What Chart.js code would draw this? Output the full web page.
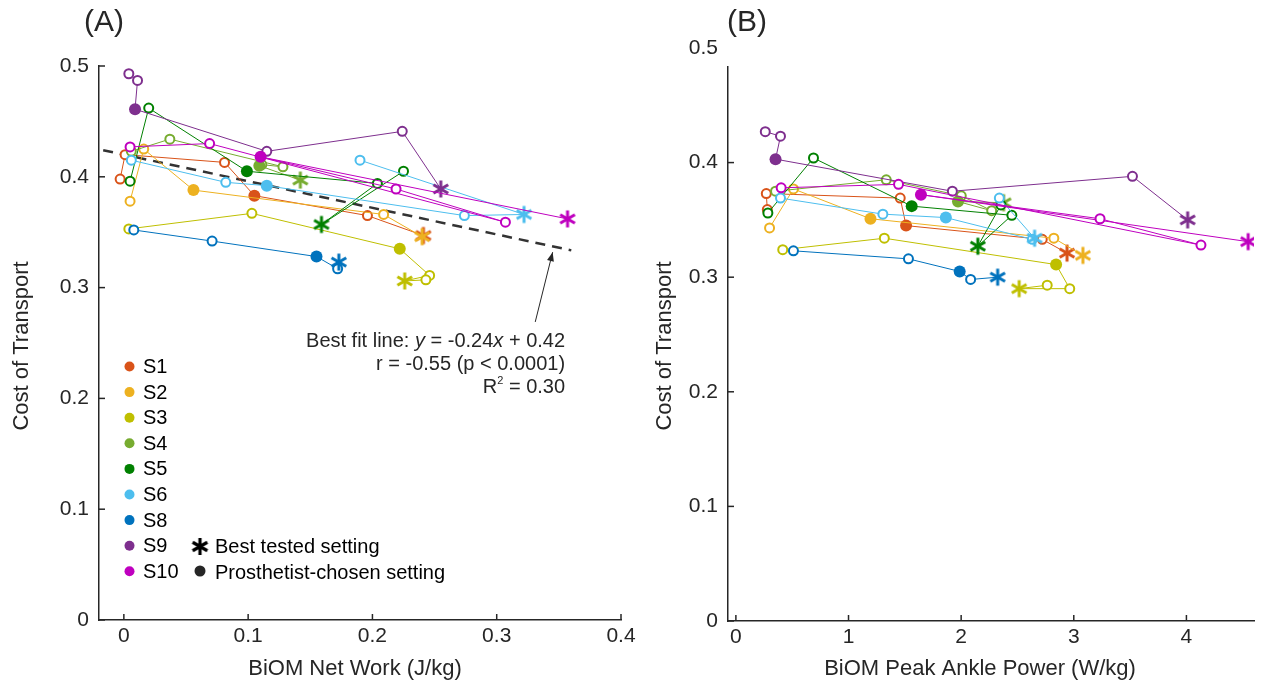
<!DOCTYPE html>
<html>
<head>
<meta charset="utf-8">
<script src="https://cdn.jsdelivr.net/npm/chart.js@4.4.0/dist/chart.umd.min.js"></script>
<style>
  html, body { margin: 0; padding: 0; background: #fff; }
  #wrap { position: relative; width: 1263px; height: 691px; }
  #chartA { position: absolute; left: 0; top: 0; width: 640px; height: 691px; }
  #chartB { position: absolute; left: 640px; top: 0; width: 623px; height: 691px; }
</style>
</head>
<body>
<div id="wrap">
  <canvas id="chartA" width="640" height="691"></canvas>
  <canvas id="chartB" width="623" height="691"></canvas>
</div>
<script>
// subjects and colours
const subjects = ['S1', 'S2', 'S3', 'S4', 'S5', 'S6', 'S8', 'S9', 'S10'];
const subjectColors = ['#D95319', '#EDB120', '#BFBF00', '#77AC30', '#008000', '#4DBEEE', '#0072BD', '#7E2F8E', '#BF00BF'];

// o = tested setting, f = prosthetist-chosen setting, * = best tested setting
const markers = [
  ['o', 'o', 'o', 'f', 'o', '*'],
  ['o', 'o', 'f', 'o', '*'],
  ['o', 'o', 'f', 'o', '*', 'o'],
  ['o', 'o', 'o', 'o', 'f', '*'],
  ['o', 'o', 'f', 'o', '*', 'o'],
  ['o', 'o', 'f', 'o', '*', 'o'],
  ['o', 'o', 'f', 'o', '*'],
  ['o', 'o', 'f', 'o', 'o', '*'],
  ['o', 'o', 'o', 'o', 'f', '*']
];

// (A) BiOM net work (J/kg)
const netWork = [
  [-0.003, 0.001, 0.081, 0.105, 0.196, 0.241],
  [0.005, 0.016, 0.056, 0.209, 0.240],
  [0.004, 0.103, 0.222, 0.246, 0.226, 0.243],
  [0.006, 0.037, 0.128, 0.111, 0.109, 0.142],
  [0.005, 0.020, 0.099, 0.204, 0.159, 0.225],
  [0.006, 0.082, 0.115, 0.274, 0.322, 0.190],
  [0.008, 0.071, 0.155, 0.172, 0.173],
  [0.004, 0.011, 0.009, 0.115, 0.224, 0.255],
  [0.005, 0.069, 0.307, 0.219, 0.110, 0.357]
];
const cotA = [
  [0.398, 0.420, 0.413, 0.383, 0.365, 0.347],
  [0.378, 0.425, 0.388, 0.366, 0.346],
  [0.353, 0.367, 0.335, 0.311, 0.306, 0.307],
  [0.423, 0.434, 0.409, 0.411, 0.410, 0.397],
  [0.396, 0.462, 0.405, 0.394, 0.357, 0.405],
  [0.415, 0.395, 0.392, 0.365, 0.366, 0.415],
  [0.352, 0.342, 0.328, 0.317, 0.323],
  [0.493, 0.487, 0.461, 0.423, 0.441, 0.389],
  [0.427, 0.430, 0.359, 0.389, 0.418, 0.362]
];

// (B) BiOM peak ankle power (W/kg)
const peakPower = [
  [0.279, 0.270, 1.459, 1.511, 2.720, 2.940],
  [0.299, 0.511, 1.195, 2.823, 3.081],
  [0.416, 1.318, 2.843, 2.964, 2.515, 2.764],
  [0.352, 1.335, 2.001, 2.271, 1.972, 2.377],
  [0.284, 0.689, 1.561, 2.450, 2.148, 2.353],
  [0.396, 1.305, 1.864, 2.632, 2.652, 2.339],
  [0.511, 1.532, 1.987, 2.084, 2.324],
  [0.261, 0.396, 0.352, 1.922, 3.521, 4.011],
  [0.402, 1.444, 4.129, 3.233, 1.643, 4.548]
];
const cotB = [
  [0.359, 0.373, 0.369, 0.345, 0.333, 0.321],
  [0.343, 0.377, 0.351, 0.334, 0.319],
  [0.324, 0.334, 0.311, 0.290, 0.290, 0.293],
  [0.375, 0.385, 0.371, 0.358, 0.366, 0.365],
  [0.356, 0.404, 0.362, 0.354, 0.327, 0.363],
  [0.369, 0.355, 0.352, 0.333, 0.334, 0.369],
  [0.323, 0.316, 0.305, 0.298, 0.300],
  [0.427, 0.423, 0.403, 0.375, 0.388, 0.350],
  [0.378, 0.381, 0.328, 0.351, 0.372, 0.331]
];

// best fit line for (A)
const fitSlope = -0.24;
const fitIntercept = 0.42;
const fitRange = [-0.03, 0.36];

const yTicks = [0, 0.1, 0.2, 0.3, 0.4, 0.5];
const xTicksA = [0, 0.1, 0.2, 0.3, 0.4];
const xTicksB = [0, 1, 2, 3, 4];

const FONT = "'Liberation Sans', Arial, Helvetica, sans-serif";
const TEXT = '#262626';
const AXIS = '#262626';

// asterisk marker drawn into a small canvas
function asteriskImage(color, r, lw) {
    const c = document.createElement('canvas');
    const s = Math.ceil(2 * r + lw + 2);
    c.width = s;
    c.height = s;
    const g = c.getContext('2d');
    g.strokeStyle = color;
    g.lineWidth = lw;
    g.translate(s / 2, s / 2);
    for (let k = 0; k < 3; k++) {
        const a = Math.PI / 2 + k * Math.PI / 3;
        g.beginPath();
        g.moveTo(Math.cos(a) * r, Math.sin(a) * r);
        g.lineTo(-Math.cos(a) * r, -Math.sin(a) * r);
        g.stroke();
    }
    return c;
}
const starImgs = subjectColors.map(c => asteriskImage(c, 8.5, 3));
const blackStar = asteriskImage('#000', 8.5, 3.2);

function subjectDatasets(xs, ys) {
    return subjects.map((name, i) => ({
        label: name,
        data: xs[i].map((x, j) => ({ x: x, y: ys[i][j] })),
        showLine: true,
        borderColor: subjectColors[i],
        borderWidth: 1,
        order: -i,
        pointStyle: markers[i].map(m => m === '*' ? starImgs[i] : 'circle'),
        pointRadius: markers[i].map(m => m === 'f' ? 6 : (m === 'o' ? 4.5 : 9)),
        pointBorderWidth: markers[i].map(m => m === 'o' ? 2 : 0),
        pointBackgroundColor: markers[i].map(m => m === 'f' ? subjectColors[i] : '#fff'),
        pointBorderColor: subjectColors[i]
    }));
}

function makeScales(xmin, xmax, ymax, xTicks, yWidth, xHeight, xFmt) {
    const tickFont = { family: FONT, size: 21 };
    return {
        x: {
            type: 'linear', min: xmin, max: xmax,
            afterBuildTicks: s => { s.ticks = xTicks.map(v => ({ value: v })); },
            afterFit: s => { s.height = xHeight; },
            grid: { display: false, drawTicks: false },
            border: { display: true, color: AXIS, width: 1.5 },
            ticks: { font: tickFont, color: TEXT, padding: 4, autoSkip: false, maxRotation: 0, callback: xFmt }
        },
        y: {
            type: 'linear', min: 0, max: ymax,
            afterBuildTicks: s => { s.ticks = yTicks.map(v => ({ value: v })); },
            afterFit: s => { s.width = yWidth; },
            grid: { display: false, drawTicks: false },
            border: { display: true, color: AXIS, width: 1.5 },
            ticks: { font: tickFont, color: TEXT, padding: 10, autoSkip: false, callback: v => v === 0 ? '0' : v.toFixed(1) }
        }
    };
}

// inward tick marks, like the original figure
const innerTicks = {
    id: 'innerTicks',
    afterDraw(chart) {
        const ctx = chart.ctx;
        const xs = chart.scales.x, ys = chart.scales.y;
        const a = chart.chartArea;
        ctx.save();
        ctx.strokeStyle = AXIS;
        ctx.lineWidth = 1.5;
        xs.ticks.forEach(t => {
            if (t.value < xs.min || t.value > xs.max) return;
            const px = xs.getPixelForValue(t.value);
            ctx.beginPath(); ctx.moveTo(px, a.bottom); ctx.lineTo(px, a.bottom - 6); ctx.stroke();
        });
        ys.ticks.forEach(t => {
            if (t.value < ys.min || t.value > ys.max) return;
            const py = ys.getPixelForValue(t.value);
            ctx.beginPath(); ctx.moveTo(a.left, py); ctx.lineTo(a.left + 6, py); ctx.stroke();
        });
        ctx.restore();
    }
};

function drawTitles(ctx, panel, panelX, yTitleX, xTitle, xTitleX) {
    ctx.save();
    ctx.fillStyle = TEXT;
    ctx.font = '30px ' + FONT;
    ctx.textAlign = 'left';
    ctx.textBaseline = 'middle';
    ctx.fillText(panel, panelX, 23);
    ctx.font = '22px ' + FONT;
    ctx.textAlign = 'center';
    ctx.fillText(xTitle, xTitleX, 669);
    ctx.translate(yTitleX, 346);
    ctx.rotate(-Math.PI / 2);
    ctx.fillText('Cost of Transport', 0, 0);
    ctx.restore();
}

// pieces of text with mixed styles, right aligned
function drawRuns(ctx, runs, xRight, y) {
    let w = 0;
    runs.forEach(r => { ctx.font = r.font; w += ctx.measureText(r.text).width; });
    let x = xRight - w;
    runs.forEach(r => {
        ctx.font = r.font;
        ctx.fillText(r.text, x, y + (r.dy || 0));
        x += ctx.measureText(r.text).width;
    });
}

const decorA = {
    id: 'decorA',
    afterDraw(chart) {
        const ctx = chart.ctx;
        const xs = chart.scales.x, ys = chart.scales.y;
        drawTitles(ctx, '(A)', 84, 22, 'BiOM Net Work (J/kg)', 355);

        // legend
        ctx.save();
        ctx.textBaseline = 'middle';
        ctx.textAlign = 'left';
        ctx.font = '20px ' + FONT;
        subjects.forEach((s, i) => {
            const y = 366.5 + i * 25.6;
            ctx.fillStyle = subjectColors[i];
            ctx.beginPath(); ctx.arc(129.5, y, 5, 0, Math.PI * 2); ctx.fill();
            ctx.fillStyle = '#000';
            ctx.fillText(s, 143, y + 1);
        });
        ctx.drawImage(blackStar, 200 - blackStar.width / 2, 546.5 - blackStar.height / 2);
        ctx.fillStyle = '#000';
        ctx.fillText('Best tested setting', 215, 547.5);
        ctx.fillStyle = '#262626';
        ctx.beginPath(); ctx.arc(200, 571, 5.5, 0, Math.PI * 2); ctx.fill();
        ctx.fillStyle = '#000';
        ctx.fillText('Prosthetist-chosen setting', 215, 573);

        // fit annotation
        ctx.fillStyle = TEXT;
        const f = '20px ' + FONT, fi = 'italic 20px ' + FONT;
        const xr = xs.getPixelForValue(0.355);
        drawRuns(ctx, [
            { text: 'Best fit line: ', font: f }, { text: 'y', font: fi },
            { text: ' = -0.24', font: f }, { text: 'x', font: fi }, { text: ' + 0.42', font: f }
        ], xr, ys.getPixelForValue(0.251));
        drawRuns(ctx, [{ text: 'r = -0.55 (p < 0.0001)', font: f }], xr, ys.getPixelForValue(0.231));
        drawRuns(ctx, [
            { text: 'R', font: f }, { text: '2', font: '11px ' + FONT, dy: -6 }, { text: ' = 0.30', font: f }
        ], xr, ys.getPixelForValue(0.210));

        // arrow to the fit line
        const x0 = xs.getPixelForValue(0.331), y0 = ys.getPixelForValue(0.269);
        const x1 = xs.getPixelForValue(0.345), y1 = ys.getPixelForValue(0.332);
        const ang = Math.atan2(y1 - y0, x1 - x0);
        ctx.strokeStyle = TEXT;
        ctx.lineWidth = 1;
        ctx.beginPath(); ctx.moveTo(x0, y0); ctx.lineTo(x1, y1); ctx.stroke();
        ctx.beginPath();
        ctx.moveTo(x1, y1);
        ctx.lineTo(x1 - 9 * Math.cos(ang) + 3.5 * Math.sin(ang), y1 - 9 * Math.sin(ang) - 3.5 * Math.cos(ang));
        ctx.lineTo(x1 - 9 * Math.cos(ang) - 3.5 * Math.sin(ang), y1 - 9 * Math.sin(ang) + 3.5 * Math.cos(ang));
        ctx.closePath();
        ctx.fill();
        ctx.restore();
    }
};

const decorB = {
    id: 'decorB',
    afterDraw(chart) {
        drawTitles(chart.ctx, '(B)', 87, 25, 'BiOM Peak Ankle Power (W/kg)', 340);
    }
};

const datasetsA = subjectDatasets(netWork, cotA);
datasetsA.push({
    label: 'fit',
    data: fitRange.map(x => ({ x: x, y: fitSlope * x + fitIntercept })),
    showLine: true,
    borderColor: '#333333',
    borderWidth: 2.5,
    borderDash: [10, 7],
    pointRadius: 0,
    order: 10
});

const common = {
    responsive: false,
    animation: false,
    plugins: { legend: { display: false }, tooltip: { enabled: false } }
};

new Chart(document.getElementById('chartA'), {
    type: 'scatter',
    data: { datasets: datasetsA },
    options: Object.assign({}, common, {
        layout: { padding: { top: 66, right: 19, left: 0, bottom: 0 } },
        scales: makeScales(-0.02, 0.4, 0.5, xTicksA, 99, 71, v => v === 0 ? '0' : v.toFixed(1))
    }),
    plugins: [innerTicks, decorA]
});

new Chart(document.getElementById('chartB'), {
    type: 'scatter',
    data: { datasets: subjectDatasets(peakPower, cotB) },
    options: Object.assign({}, common, {
        layout: { padding: { top: 67, right: 4, left: 0, bottom: 0 } },
        scales: makeScales(-0.07, 4.6, 0.4834, xTicksB, 88, 70, v => String(v))
    }),
    plugins: [innerTicks, decorB]
});
</script>
</body>
</html>
